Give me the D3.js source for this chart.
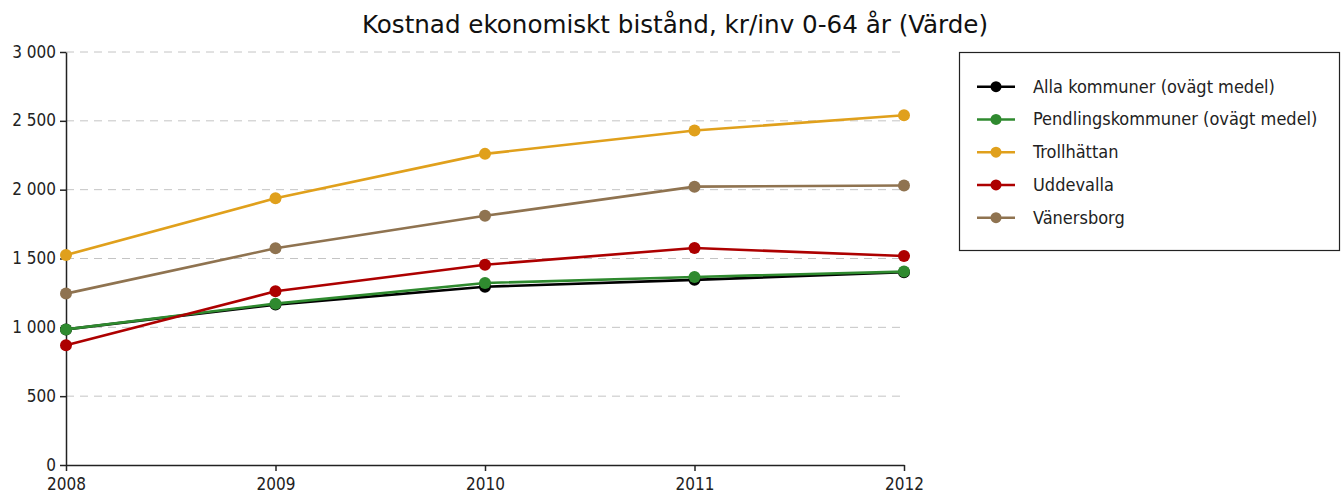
<!DOCTYPE html>
<html>
<head>
<meta charset="utf-8">
<script src="https://cdn.jsdelivr.net/npm/d3@7/dist/d3.min.js"></script>
<style>
  html, body { margin: 0; padding: 0; background: #fff; }
  svg { display: block; font-family: "DejaVu Sans Condensed", "DejaVu Sans", sans-serif; }
</style>
</head>
<body>
<svg id="chart" width="1344" height="498"></svg>
<script>
const title = "Kostnad ekonomiskt bistånd, kr/inv 0-64 år (Värde)";
const years = ["2008", "2009", "2010", "2011", "2012"];
const yTicks = [0, 500, 1000, 1500, 2000, 2500, 3000];

const seriesNames = [
  "Alla kommuner (ovägt medel)",
  "Pendlingskommuner (ovägt medel)",
  "Trollhättan",
  "Uddevalla",
  "Vänersborg"
];
const seriesColors = ["#000000", "#2f8a2f", "#e0a01c", "#ad0000", "#8f7350"];

const allaKommuner      = [985, 1165, 1295, 1345, 1400];
const pendlingskommuner = [985, 1172, 1322, 1366, 1405];
const trollhattan       = [1525, 1937, 2260, 2430, 2540];
const uddevalla         = [870, 1262, 1455, 1576, 1518];
const vanersborg        = [1245, 1574, 1810, 2022, 2030];

const seriesValues = [allaKommuner, pendlingskommuner, trollhattan, uddevalla, vanersborg];

const FONT = "'DejaVu Sans Condensed', 'DejaVu Sans', sans-serif";
const svg = d3.select("#chart");
const plot = { left: 66, right: 904, top: 52, bottom: 465 };

const x = d3.scalePoint().domain(years).range([plot.left, plot.right]);
const y = d3.scaleLinear().domain([0, 3000]).range([plot.bottom, plot.top]);

const fmt = v => d3.format(",")(v).replace(/,/g, " ");

// Title
svg.append("text")
  .attr("x", 675).attr("y", 33)
  .attr("text-anchor", "middle")
  .attr("font-family", FONT)
  .attr("font-size", 24)
  .attr("fill", "#111")
  .attr("textLength", 626)
  .attr("lengthAdjust", "spacingAndGlyphs")
  .text(title);

// Dashed gridlines
svg.append("g")
  .selectAll("line")
  .data(yTicks.filter(d => d > 0))
  .join("line")
  .attr("x1", plot.left).attr("x2", plot.right)
  .attr("y1", d => y(d)).attr("y2", d => y(d))
  .attr("stroke", "#c4c4c4")
  .attr("stroke-width", 1)
  .attr("stroke-dasharray", "8,6");

// Y axis
const yAxis = svg.append("g")
  .attr("transform", `translate(${plot.left},0)`)
  .call(d3.axisLeft(y).tickValues(yTicks).tickFormat(fmt).tickSize(6).tickSizeOuter(0));
yAxis.select(".domain").attr("stroke", "#222").attr("stroke-width", 1.5);
yAxis.selectAll(".tick line").attr("stroke", "#222").attr("stroke-width", 1.5);
yAxis.selectAll(".tick text")
  .attr("font-size", 17).attr("fill", "#222")
  .attr("font-family", FONT)
  .attr("x", -10)
  .attr("dy", "0.3em");

// X axis
const xAxis = svg.append("g")
  .attr("transform", `translate(0,${plot.bottom})`)
  .call(d3.axisBottom(x).tickSize(6).tickSizeOuter(0));
xAxis.select(".domain").attr("stroke", "#222").attr("stroke-width", 1.5);
xAxis.selectAll(".tick line").attr("stroke", "#222").attr("stroke-width", 1.5);
xAxis.selectAll(".tick text")
  .attr("font-size", 17).attr("fill", "#222")
  .attr("font-family", FONT)
  .attr("y", 13);

// Series lines and markers
const line = d3.line().x((d, i) => x(years[i])).y(d => y(d));

seriesValues.forEach((vals, s) => {
  const g = svg.append("g");
  g.append("path")
    .datum(vals)
    .attr("d", line)
    .attr("fill", "none")
    .attr("stroke", seriesColors[s])
    .attr("stroke-width", 2.6);
  g.selectAll("circle")
    .data(vals)
    .join("circle")
    .attr("cx", (d, i) => x(years[i]))
    .attr("cy", d => y(d))
    .attr("r", 6)
    .attr("fill", seriesColors[s]);
});

// Legend
const legend = svg.append("g");
legend.append("rect")
  .attr("x", 959.5).attr("y", 52.5)
  .attr("width", 380).attr("height", 198)
  .attr("fill", "#fff")
  .attr("stroke", "#222")
  .attr("stroke-width", 1.2);

seriesNames.forEach((name, i) => {
  const ly = 86.7 + i * 32.75;
  legend.append("line")
    .attr("x1", 977).attr("x2", 1015)
    .attr("y1", ly).attr("y2", ly)
    .attr("stroke", seriesColors[i])
    .attr("stroke-width", 2.6);
  legend.append("circle")
    .attr("cx", 996).attr("cy", ly).attr("r", 5.5)
    .attr("fill", seriesColors[i]);
  legend.append("text")
    .attr("x", 1033).attr("y", ly + 6)
    .attr("font-family", FONT)
    .attr("font-size", 18)
    .attr("fill", "#222")
    .text(name);
});
</script>
</body>
</html>
